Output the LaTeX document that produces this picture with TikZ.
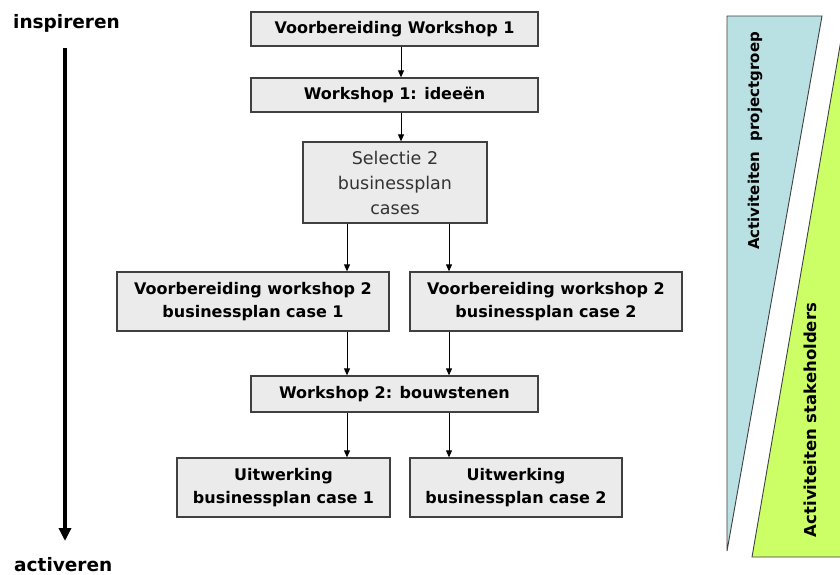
\documentclass[tikz,border=0pt]{standalone}
\usepackage{fontspec}
\setmainfont{DejaVu Sans}
\usetikzlibrary{arrows.meta}
\definecolor{boxfill}{HTML}{EBEBEB}
\definecolor{boxline}{HTML}{404040}
\definecolor{triblue}{HTML}{B9E0E3}
\definecolor{trigreen}{HTML}{CCFF66}
\begin{document}
\begin{tikzpicture}[x=1pt,y=-1pt,
  box/.style={draw=boxline,fill=boxfill,line width=1.3pt,inner sep=0pt,align=center,
    font=\fontsize{16}{23}\selectfont\bfseries},
  arr/.style={draw=black,line width=0.9pt,-{Triangle[length=7pt,width=6pt]}},
  side/.style={font=\fontsize{18.5}{22}\selectfont\bfseries,anchor=base west,inner sep=0pt},
  tritext/.style={rotate=90,font=\fontsize{15}{18}\selectfont\bfseries}]
\useasboundingbox (0,0) rectangle (840,574);
\fill[white] (0,0) rectangle (840,574);
% triangles
\draw[fill=triblue,draw=boxline,line width=0.9pt] (727,16) -- (822,16) -- (727,551) -- cycle;
\draw[fill=trigreen,draw=boxline,line width=0.9pt] (752,557) -- (844,557) -- (844,40) -- (841,40) -- cycle;
\node[tritext] (tp) at (755,141) {Activiteiten\ \ projectgroep};
\node[tritext,font=\fontsize{16.5}{18}\selectfont\bfseries] (ts) at (810,420) {Activiteiten stakeholders};
% side labels
\node[side] (insp) at (13,28) {inspireren};
\node[side] (activ) at (14,571) {activeren};
\coordinate (ltop) at (65,48);
\coordinate (lbot) at (65,541);
\draw[line width=4pt,-{Triangle[length=13pt,width=12pt]}] (ltop) -- (lbot);
% boxes
\node[box,minimum width=287pt,minimum height=34pt] (b1) at (394.5,29) {Voorbereiding Workshop 1};
\node[box,minimum width=287pt,minimum height=34pt] (b2) at (394.5,95) {Workshop 1: ideeën};
\node[box,minimum width=184pt,minimum height=81pt,font=\fontsize{17.5}{25}\selectfont,text=black!80] (b3) at (395,182.5) {Selectie 2\\businessplan\\cases};
\node[box,minimum width=272pt,minimum height=59pt] (b4) at (253,301.5) {Voorbereiding workshop 2\\businessplan case 1};
\node[box,minimum width=272pt,minimum height=59pt] (b5) at (546,301.5) {Voorbereiding workshop 2\\businessplan case 2};
\node[box,minimum width=287pt,minimum height=36pt] (b6) at (394.5,394) {Workshop 2: bouwstenen};
\node[box,minimum width=213pt,minimum height=59pt] (b7) at (283.5,487.5) {Uitwerking\\businessplan case 1};
\node[box,minimum width=212pt,minimum height=59pt] (b8) at (516,487.5) {Uitwerking\\businessplan case 2};
% arrow columns
\coordinate (xm) at (401,0);
\coordinate (xl) at (347,0);
\coordinate (xr) at (449,0);
\draw[arr] (b1.south -| xm) -- (b2.north -| xm);
\draw[arr] (b2.south -| xm) -- (b3.north -| xm);
\draw[arr] (b3.south -| xl) -- (b4.north -| xl);
\draw[arr] (b3.south -| xr) -- (b5.north -| xr);
\draw[arr] (b4.south -| xl) -- (b6.north -| xl);
\draw[arr] (b5.south -| xr) -- (b6.north -| xr);
\draw[arr] (b6.south -| xl) -- (b7.north -| xl);
\draw[arr] (b6.south -| xr) -- (b8.north -| xr);
\end{tikzpicture}
\end{document}
